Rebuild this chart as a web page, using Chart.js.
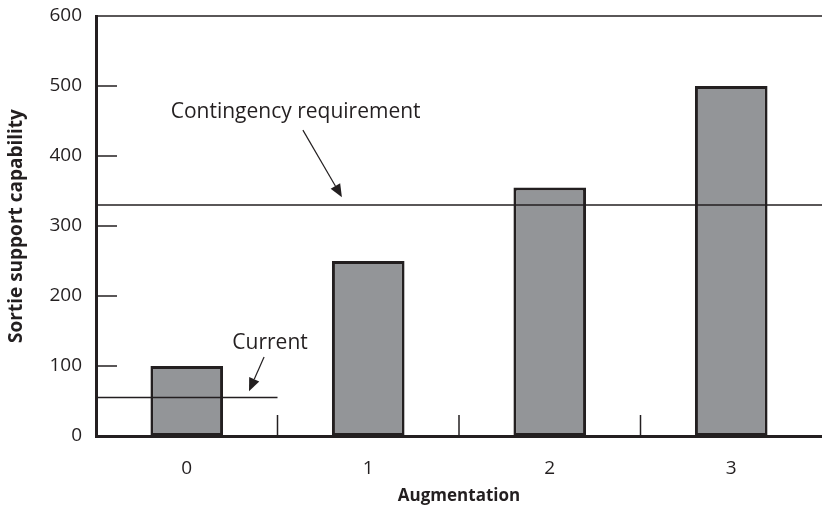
<!DOCTYPE html>
<html>
<head>
<meta charset="utf-8">
<script src="https://cdn.jsdelivr.net/npm/chart.js@4"></script>
<style>
  body { margin: 0; background: #fff; }
</style>
</head>
<body>
<canvas id="myChart" width="822" height="514"></canvas>
<script>
const categories = ["0", "1", "2", "3"];
const capability = [100, 250, 355, 500];
const yTicks = [0, 100, 200, 300, 400, 500, 600];

const contingencyLevel = 330;
const currentLevel = 55;

const ink = "#231f20";

// reference lines, labels and arrows drawn on the chart's own scales
const notesPlugin = {
  id: "notes",
  afterDatasetsDraw(chart) {
    const { ctx, chartArea: area, scales: { x, y } } = chart;
    ctx.save();
    ctx.strokeStyle = ink;
    ctx.fillStyle = ink;

    // top frame line
    ctx.lineWidth = 1.5;
    ctx.beginPath();
    ctx.moveTo(area.left, area.top);
    ctx.lineTo(area.right, area.top);
    ctx.stroke();

    // inside ticks on y
    yTicks.slice(1, -1).forEach((v) => {
      const py = y.getPixelForValue(v);
      ctx.beginPath();
      ctx.moveTo(area.left, py);
      ctx.lineTo(area.left + 21, py);
      ctx.stroke();
    });

    // ticks between categories
    [0.5, 1.5, 2.5].forEach((v) => {
      const px = x.getPixelForValue(v);
      ctx.beginPath();
      ctx.moveTo(px, area.bottom);
      ctx.lineTo(px, area.bottom - 21);
      ctx.stroke();
    });

    // contingency requirement line
    const cy = y.getPixelForValue(contingencyLevel);
    ctx.beginPath();
    ctx.moveTo(area.left, cy);
    ctx.lineTo(area.right, cy);
    ctx.stroke();

    // current line
    const ky = y.getPixelForValue(currentLevel);
    ctx.beginPath();
    ctx.moveTo(area.left, ky);
    ctx.lineTo(x.getPixelForValue(0.5), ky);
    ctx.stroke();

    const arrow = (x0, y0, x1, y1) => {
      const ax = x.getPixelForValue(x0), ay = y.getPixelForValue(y0);
      const bx = x.getPixelForValue(x1), by = y.getPixelForValue(y1);
      const ang = Math.atan2(by - ay, bx - ax);
      const len = 13, half = 5.5;
      const hx = bx - len * Math.cos(ang), hy = by - len * Math.sin(ang);
      ctx.lineWidth = 1.2;
      ctx.beginPath();
      ctx.moveTo(ax, ay);
      ctx.lineTo(hx, hy);
      ctx.stroke();
      ctx.beginPath();
      ctx.moveTo(bx, by);
      ctx.lineTo(hx + half * Math.sin(ang), hy - half * Math.cos(ang));
      ctx.lineTo(hx - half * Math.sin(ang), hy + half * Math.cos(ang));
      ctx.closePath();
      ctx.fill();
    };
    arrow(0.64, 437, 0.855, 341);
    arrow(0.426, 113, 0.343, 64);

    ctx.font = "21px 'Open Sans'";
    ctx.textAlign = "center";
    ctx.textBaseline = "middle";
    ctx.fillText("Contingency requirement", x.getPixelForValue(0.6), y.getPixelForValue(463));
    ctx.fillText("Current", x.getPixelForValue(0.459), y.getPixelForValue(133));
    ctx.restore();
  },
};

const config = {
  type: "bar",
  data: {
    labels: categories,
    datasets: [
      {
        data: capability,
        backgroundColor: "#939598",
        borderColor: ink,
        borderWidth: 3,
        borderSkipped: false,
        barPercentage: 0.4,
        categoryPercentage: 1,
      },
    ],
  },
  options: {
    responsive: false,
    animation: false,
    layout: { padding: { top: 16, right: 0, left: 0, bottom: 0 } },
    plugins: {
      legend: { display: false },
      tooltip: { enabled: false },
    },
    scales: {
      x: {
        grid: { display: false },
        border: { display: true, color: ink, width: 3 },
        ticks: { color: ink, padding: 13, font: { family: "Open Sans", size: 19 } },
        title: {
          display: true,
          text: "Augmentation",
          color: ink,
          padding: { top: 0, bottom: 8 },
          font: { family: "Open Sans", size: 17, weight: "bold" },
        },
        afterFit: (scale) => {
          scale.height = 78;
          scale.paddingLeft = 0;
          scale.paddingRight = 0;
        },
      },
      y: {
        min: 0,
        max: 600,
        afterBuildTicks: (scale) => {
          scale.ticks = yTicks.map((v) => ({ value: v }));
        },
        grid: { display: false },
        border: { display: true, color: ink, width: 3 },
        ticks: { color: ink, padding: 6, font: { family: "Open Sans", size: 19 } },
        title: {
          display: true,
          text: "Sortie support capability",
          color: ink,
          padding: { top: 5, bottom: 0 },
          font: { family: "Open Sans", size: 19, weight: "bold" },
        },
        afterFit: (scale) => {
          scale.width = 96;
          scale.paddingTop = 0;
          scale.paddingBottom = 0;
        },
      },
    },
  },
  plugins: [notesPlugin],
};

const myChart = new Chart(document.getElementById("myChart").getContext("2d"), config);
</script>
</body>
</html>
